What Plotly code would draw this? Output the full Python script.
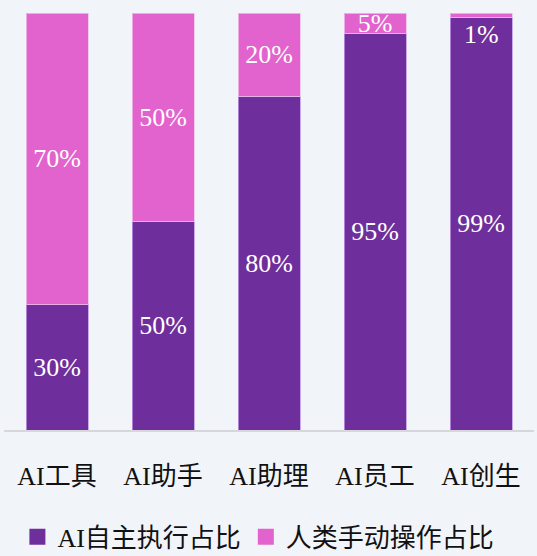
import plotly.graph_objects as go

categories = ["AI工具", "AI助手", "AI助理", "AI员工", "AI创生"]
ai_share = [30, 50, 80, 95, 99]
human_share = [70, 50, 20, 5, 1]
series_names = ["AI自主执行占比", "人类手动操作占比"]

PURPLE = "#6E2F9C"
PINK = "#E263CD"
BG = "#F1F4F9"
FONT = "Liberation Serif, DejaVu Serif, Noto Sans CJK SC"

def labels(vals):
    return [f"{v}%" if v >= 3 else "" for v in vals]

fig = go.Figure()
fig.add_trace(go.Bar(
    x=categories, y=ai_share, name=series_names[0], showlegend=False,
    marker=dict(color=PURPLE, line=dict(color="rgba(190,150,230,0.8)", width=1)),
    text=labels(ai_share), textposition="inside", insidetextanchor="middle",
    textangle=0, textfont=dict(color="white", size=26, family=FONT),
))
fig.add_trace(go.Bar(
    x=categories, y=human_share, name=series_names[1], showlegend=False,
    marker=dict(color=PINK, line=dict(color="rgba(240,190,235,0.8)", width=1)),
    text=labels(human_share), textposition="inside", insidetextanchor="middle",
    textangle=0, textfont=dict(color="white", size=26, family=FONT),
))
# small segments: label placed just below top, inside the purple part
for c, a, h in zip(categories, ai_share, human_share):
    if h < 3:
        fig.add_annotation(x=c, y=a, yanchor="top", text=f"{h}%", showarrow=False,
                           yshift=-1, font=dict(color="white", size=26, family=FONT))

# legend entries with large square swatches
for name, col in zip(series_names, [PURPLE, PINK]):
    fig.add_trace(go.Scatter(
        x=[None], y=[None], mode="markers", name=name,
        marker=dict(symbol="square", size=18, color=col),
    ))

fig.update_layout(
    width=537, height=556,
    margin=dict(l=4, r=3, t=13, b=126, autoexpand=False),
    barmode="stack", bargap=0.415,
    paper_bgcolor=BG, plot_bgcolor=BG,
    font=dict(family=FONT, size=26, color="#111111"),
    uniformtext=dict(minsize=26, mode="show"),
    showlegend=True,
    legend=dict(orientation="h", x=0.48, xanchor="center", y=-0.256, yanchor="middle",
                traceorder="normal",
                font=dict(size=26, family=FONT, color="#111111"),
                bgcolor="rgba(0,0,0,0)", itemwidth=30, tracegroupgap=0),
    xaxis=dict(showline=True, linecolor="#D6D6DB", linewidth=1.5, ticks="",
               tickfont=dict(size=26, family=FONT, color="#111111"),
               ticklabelstandoff=22, showgrid=False, zeroline=False),
    yaxis=dict(range=[0, 100], visible=False, showgrid=False, zeroline=False),
)

fig.write_html("out.html")
